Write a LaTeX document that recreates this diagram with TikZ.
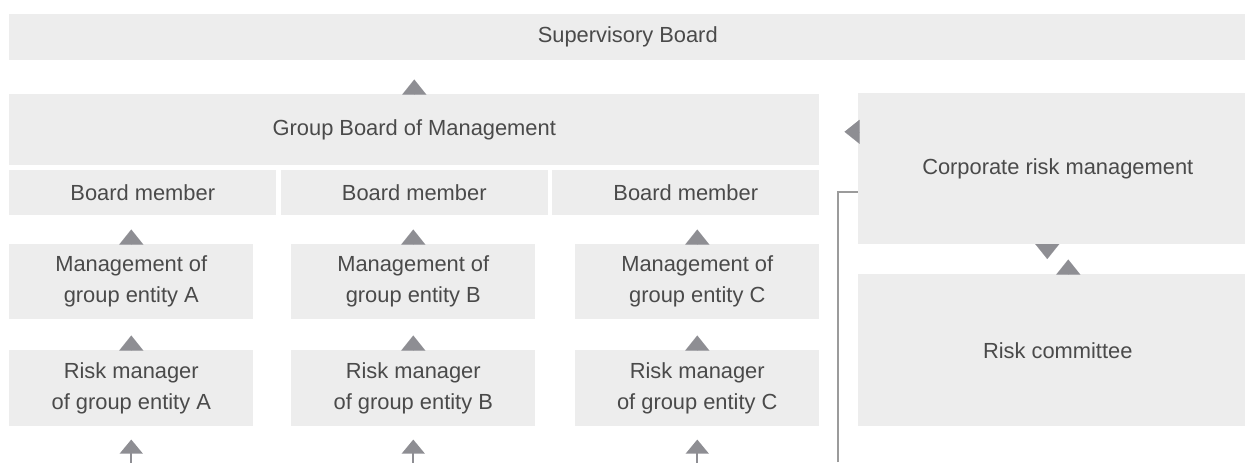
\documentclass[tikz,border=0pt]{standalone}
\usepackage{fontspec}
\setmainfont{Liberation Sans}
\usetikzlibrary{positioning, arrows.meta}
\definecolor{BoxGray}{HTML}{EDEDED}
\definecolor{TipGray}{HTML}{8E8E93}
\definecolor{LineGray}{HTML}{9B9B9B}
\definecolor{LabelGray}{HTML}{4A4A4A}

\begin{document}
\begin{tikzpicture}[x=0.75pt, y=-0.75pt,
    box/.style={fill=BoxGray, text=LabelGray, inner sep=0pt, align=center, anchor=north west,
      font=\fontsize{16.4}{23.25}\selectfont},
    member/.style={box, minimum width=200.25pt, minimum height=33.75pt},
    entity/.style={box, minimum width=183pt, minimum height=56.25pt},
    sidebox/.style={box, minimum width=299.25pt, minimum height=113.25pt},
    tip/.style={-{Triangle[width=18pt, length=11.25pt]}, TipGray, line width=0.01pt},
    feed/.style={-{Triangle[width=17pt, length=10.5pt]}, TipGray, line width=1.5pt},
    link/.style={LineGray, line width=1.5pt}]
  \useasboundingbox (0,0) rectangle (1245,462);
  % Boards
  \node[box, minimum width=927.75pt, minimum height=34.5pt] (sb) at (9,14) {Supervisory Board};
  \node[box, minimum width=607.5pt, minimum height=53.25pt] (gbm) at (9,94) {Group Board of Management};
  \draw[tip, shorten >=14.25pt] (gbm.north) -- (gbm.north |- sb.south);
  % Group entities
  \foreach \e/\bx/\mx in {A/9/9, B/280.5/291, C/552/575} {
    \node[member] (bm\e) at (\bx,170) {Board member};
    \node[entity] (mg\e) at (\mx,244) {Management of\\group entity \e};
    \node[entity, minimum height=57pt] (rm\e) at (\mx,350) {Risk manager\\of group entity \e};
    \coordinate (in\e) at ([yshift=-27pt]rm\e.south);
    \draw[tip, shorten >=10.5pt] (mg\e.north) -- (mg\e.north |- bm\e.south);
    \draw[tip, shorten >=12pt] (rm\e.north) -- (mg\e.south);
    \draw[feed, shorten >=9.75pt] (in\e) -- (rm\e.south);
  }
  % Corporate side
  \node[sidebox] (crm) at (858,93) {Corporate risk management};
  \node[sidebox, minimum height=114pt] (rc) at (858,274) {Risk committee};
  \coordinate (gbmin) at ([yshift=-1.5pt]gbm.east);
  \draw[tip, shorten >=18.75pt] (crm.west |- gbmin) -- (gbmin);
  \draw[tip, shorten >=11.25pt] ([xshift=-7.875pt]crm.south) -- ([xshift=-7.875pt]crm.south |- rc.north);
  \draw[tip, shorten >=11.25pt] ([xshift=7.875pt]rc.north) -- ([xshift=7.875pt]rc.north |- crm.south);
  \coordinate (crmin) at (838,462);
  \draw[link] (crmin) |- ([yshift=-17.625pt]crm.west);
\end{tikzpicture}
\end{document}
